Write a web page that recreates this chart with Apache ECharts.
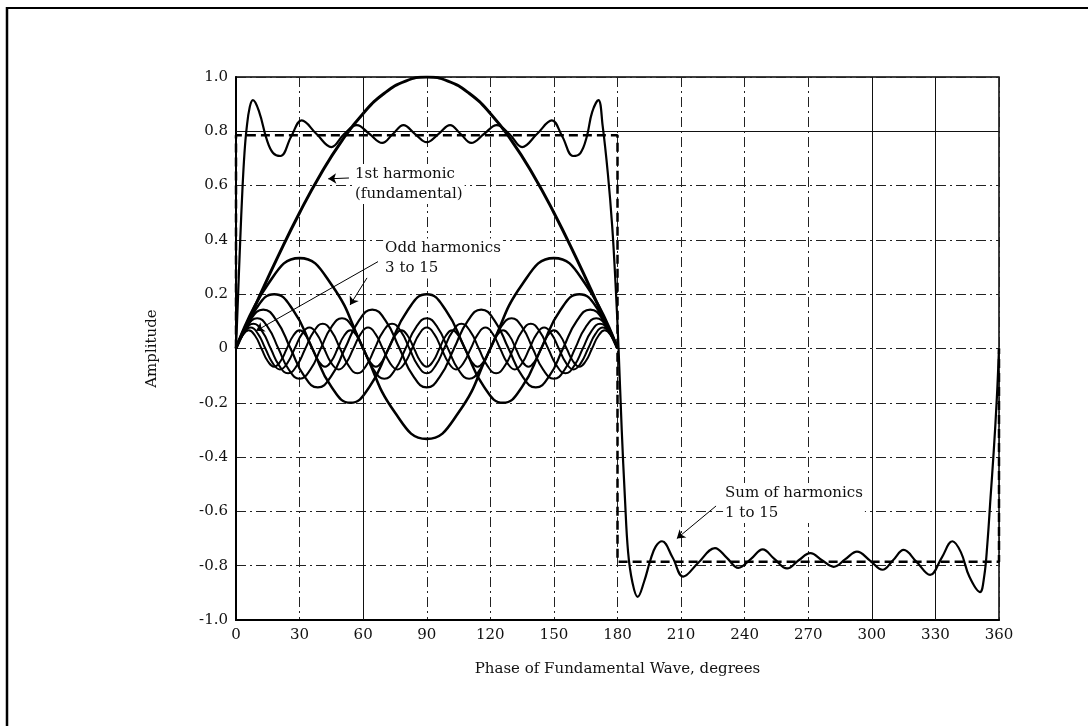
<!DOCTYPE html>
<html>
<head>
<meta charset="utf-8">
<script src="https://cdn.jsdelivr.net/npm/echarts@6/dist/echarts.min.js"></script>
<style>html,body{margin:0;padding:0;background:#fff}#c{width:1088px;height:726px}</style>
</head>
<body>
<div id="c"></div>
<script>
// ---- data ----
const xTicks = [0, 30, 60, 90, 120, 150, 180, 210, 240, 270, 300, 330, 360];
const yTicks = [-1.0, -0.8, -0.6, -0.4, -0.2, 0, 0.2, 0.4, 0.6, 0.8, 1.0];

// 1st harmonic (fundamental), sampled every 10 degrees, 0..180
const fundamental = [0, 0.174, 0.342, 0.5, 0.643, 0.766, 0.866, 0.94, 0.985, 1.0, 0.985, 0.94, 0.866, 0.766, 0.643, 0.5, 0.342, 0.174, 0];

// odd harmonics, evenly sampled over 0..180 degrees
const h3 = [0, 0.236, 0.333, 0.236, 0, -0.236, -0.333, -0.236, 0, 0.236, 0.333, 0.236, 0];
const h5 = [0, 0.141, 0.2, 0.141, 0, -0.141, -0.2, -0.141, 0, 0.141, 0.2, 0.141, 0, -0.141, -0.2, -0.141, 0, 0.141, 0.2, 0.141, 0];
const h7 = [0, 0.101, 0.143, 0.101, 0, -0.101, -0.143, -0.101,
            0, 0.101, 0.143, 0.101, 0, -0.101, -0.143, -0.101,
            0, 0.101, 0.143, 0.101, 0, -0.101, -0.143, -0.101,
            0, 0.101, 0.143, 0.101, 0];
const h9 = [0, 0.079, 0.111, 0.079, 0, -0.079, -0.111, -0.079,
            0, 0.079, 0.111, 0.079, 0, -0.079, -0.111, -0.079,
            0, 0.079, 0.111, 0.079, 0, -0.079, -0.111, -0.079,
            0, 0.079, 0.111, 0.079, 0, -0.079, -0.111, -0.079,
            0, 0.079, 0.111, 0.079, 0];
const h11 = [0, 0.064, 0.091, 0.064, 0, -0.064, -0.091, -0.064,
             0, 0.064, 0.091, 0.064, 0, -0.064, -0.091, -0.064,
             0, 0.064, 0.091, 0.064, 0, -0.064, -0.091, -0.064,
             0, 0.064, 0.091, 0.064, 0, -0.064, -0.091, -0.064,
             0, 0.064, 0.091, 0.064, 0, -0.064, -0.091, -0.064,
             0, 0.064, 0.091, 0.064, 0];
const h13 = [0, 0.054, 0.077, 0.054, 0, -0.054, -0.077, -0.054,
             0, 0.054, 0.077, 0.054, 0, -0.054, -0.077, -0.054,
             0, 0.054, 0.077, 0.054, 0, -0.054, -0.077, -0.054,
             0, 0.054, 0.077, 0.054, 0, -0.054, -0.077, -0.054,
             0, 0.054, 0.077, 0.054, 0, -0.054, -0.077, -0.054,
             0, 0.054, 0.077, 0.054, 0, -0.054, -0.077, -0.054,
             0, 0.054, 0.077, 0.054, 0];
const h15 = [0, 0.047, 0.067, 0.047, 0, -0.047, -0.067, -0.047,
             0, 0.047, 0.067, 0.047, 0, -0.047, -0.067, -0.047,
             0, 0.047, 0.067, 0.047, 0, -0.047, -0.067, -0.047,
             0, 0.047, 0.067, 0.047, 0, -0.047, -0.067, -0.047,
             0, 0.047, 0.067, 0.047, 0, -0.047, -0.067, -0.047,
             0, 0.047, 0.067, 0.047, 0, -0.047, -0.067, -0.047,
             0, 0.047, 0.067, 0.047, 0, -0.047, -0.067, -0.047,
             0, 0.047, 0.067, 0.047, 0];

// sum of harmonics 1 to 15 (phase, amplitude)
const sumX = [0, 1, 2, 3, 4, 5, 6.5, 8, 11, 14.5, 17.5, 21, 26, 31, 38, 45, 51, 57, 63, 69, 74, 79, 84.5, 90,
              95.5, 101, 106, 111, 117, 123, 129, 135, 142, 149, 154, 159, 162.5, 165.5, 168, 171, 173, 175.5, 177.5, 179, 180.5,
              182, 183.5, 185, 187, 189.5, 192.5, 195.5, 198, 201, 206, 211, 218, 226, 231.5, 237, 243, 248.5, 254, 260, 265.5,
              271, 276.5, 282, 287.5, 293, 299, 305, 310, 315, 321, 327.5, 333, 338, 342, 346, 351, 353, 354.5, 356, 357.5, 359, 360];
const sumY = [0, 0.2, 0.4, 0.58, 0.72, 0.81, 0.89, 0.915, 0.87, 0.77, 0.72, 0.709, 0.78, 0.84, 0.79, 0.742, 0.79, 0.823, 0.79, 0.757, 0.79, 0.823, 0.79, 0.76,
              0.79, 0.823, 0.79, 0.757, 0.79, 0.823, 0.79, 0.742, 0.79, 0.84, 0.78, 0.709, 0.72, 0.78, 0.87, 0.915, 0.82, 0.64, 0.45, 0.25, 0,
              -0.3, -0.55, -0.75, -0.86, -0.915, -0.86, -0.78, -0.73, -0.71, -0.77, -0.84, -0.79, -0.735, -0.77, -0.808, -0.775, -0.74, -0.775, -0.81, -0.78,
              -0.754, -0.78, -0.804, -0.776, -0.748, -0.78, -0.815, -0.78, -0.742, -0.785, -0.834, -0.77, -0.71, -0.75, -0.84, -0.897, -0.84, -0.72, -0.55, -0.38, -0.18, 0];

// ideal square wave (dashed)
const squareX = [0, 0, 180, 180, 360, 360];
const squareY = [0, 0.785, 0.785, -0.785, -0.785, 0];

// annotations (text, anchor in data units)
const notes = [
  { text: '1st harmonic\n(fundamental)', x: 55.2, y: 0.68 },
  { text: 'Odd harmonics\n3 to 15', x: 69.4, y: 0.405 },
  { text: 'Sum of harmonics\n1 to 15', x: 229.8, y: -0.495 }
];
const arrows = [
  [[53.3, 0.628], [43.5, 0.625]],
  [[67, 0.32], [9.5, 0.065]],
  [[61.8, 0.26], [53.8, 0.16]],
  [[226.5, -0.58], [208, -0.70]]
];
const solidGridY = [0.8];
const solidGridX = [60, 300, 330];

// ---- chart ----
const FONT = 'DejaVu Serif';
const spread = arr => arr.map((v, i) => [i * 180 / (arr.length - 1), v]);
const zip = (xs, ys) => xs.map((x, i) => [x, ys[i]]);
const black = '#000';

function harmonicSeries(arr, w) {
  return { type: 'line', data: spread(arr), smooth: true, symbol: 'none',
           lineStyle: { color: black, width: w }, silent: true, z: 3 };
}

const chart = echarts.init(document.getElementById('c'), null, { renderer: 'canvas' });
const option = {
  animation: false,
  backgroundColor: '#fff',
  grid: { left: 236, right: 89, top: 77, bottom: 106, show: true, borderColor: black, borderWidth: 1.5 },
  xAxis: {
    type: 'value', min: xTicks[0], max: xTicks[xTicks.length - 1], interval: 30,
    name: 'Phase of Fundamental Wave, degrees', nameLocation: 'middle', nameGap: 42,
    nameTextStyle: { fontFamily: FONT, fontSize: 15, color: '#111' },
    axisLine: { show: true, onZero: false, lineStyle: { color: black, width: 2 } },
    axisTick: { show: false },
    axisLabel: { fontFamily: FONT, fontSize: 15, color: '#111', margin: 8 },
    splitLine: { show: true, lineStyle: { color: '#222', width: 1, type: [10, 4, 2, 4] } }
  },
  yAxis: {
    type: 'value', min: yTicks[0], max: yTicks[yTicks.length - 1], interval: 0.2,
    name: 'Amplitude', nameLocation: 'middle', nameGap: 76, nameRotate: 90,
    nameTextStyle: { fontFamily: FONT, fontSize: 15, color: '#111' },
    axisLine: { show: true, onZero: false, lineStyle: { color: black, width: 2 } },
    axisTick: { show: false },
    axisLabel: { fontFamily: FONT, fontSize: 15, color: '#111', margin: 8,
                 formatter: v => (Math.abs(v) < 1e-9 ? '0' : v.toFixed(1)) },
    splitLine: { show: true, lineStyle: { color: '#222', width: 1, type: [10, 4, 2, 4] } }
  },
  series: [
    {
      type: 'line', data: zip(squareX, squareY), symbol: 'none', silent: true, z: 2,
      lineStyle: { color: black, width: 2.5, type: [9, 5] },
      markLine: {
        silent: true, symbol: 'none', label: { show: false },
        lineStyle: { color: '#111', width: 1, type: 'solid' },
        data: solidGridY.map(v => ({ yAxis: v })).concat(solidGridX.map(v => ({ xAxis: v })))
      }
    },
    {
      type: 'line', data: spread(fundamental), smooth: true, symbol: 'none', silent: true, z: 4,
      lineStyle: { color: black, width: 3 },
      markLine: {
        silent: true, symbol: ['none', 'arrow'], symbolSize: 8, label: { show: false },
        lineStyle: { color: black, width: 1, type: 'solid' },
        data: arrows.map(a => [{ coord: a[0] }, { coord: a[1] }])
      }
    },
    harmonicSeries(h3, 2.6),
    harmonicSeries(h5, 2.4),
    harmonicSeries(h7, 2.2),
    harmonicSeries(h9, 2.0),
    harmonicSeries(h11, 2.0),
    harmonicSeries(h13, 2.0),
    harmonicSeries(h15, 2.0),
    {
      type: 'line', data: zip(sumX, sumY), smooth: 0.4, symbol: 'none', silent: true, z: 5,
      lineStyle: { color: black, width: 2.2 }
    }
  ]
};
chart.setOption(option);

const g = [
  { type: 'line', shape: { x1: 7, y1: 7, x2: 7, y2: 740 }, style: { stroke: black, lineWidth: 2.5 } },
  { type: 'line', shape: { x1: 6, y1: 8, x2: 1100, y2: 8 }, style: { stroke: black, lineWidth: 2 } }
];
notes.forEach(n => {
  const p = chart.convertToPixel({ gridIndex: 0 }, [n.x, n.y]);
  g.push({ type: 'text', x: p[0], y: p[1], z: 10,
           style: { text: n.text, fill: '#111', font: '15px "DejaVu Serif"', lineHeight: 20,
                    align: 'left', verticalAlign: 'top', backgroundColor: '#fff', padding: [0, 2, 0, 2] } });
});
chart.setOption({ graphic: g });
</script>
</body>
</html>
